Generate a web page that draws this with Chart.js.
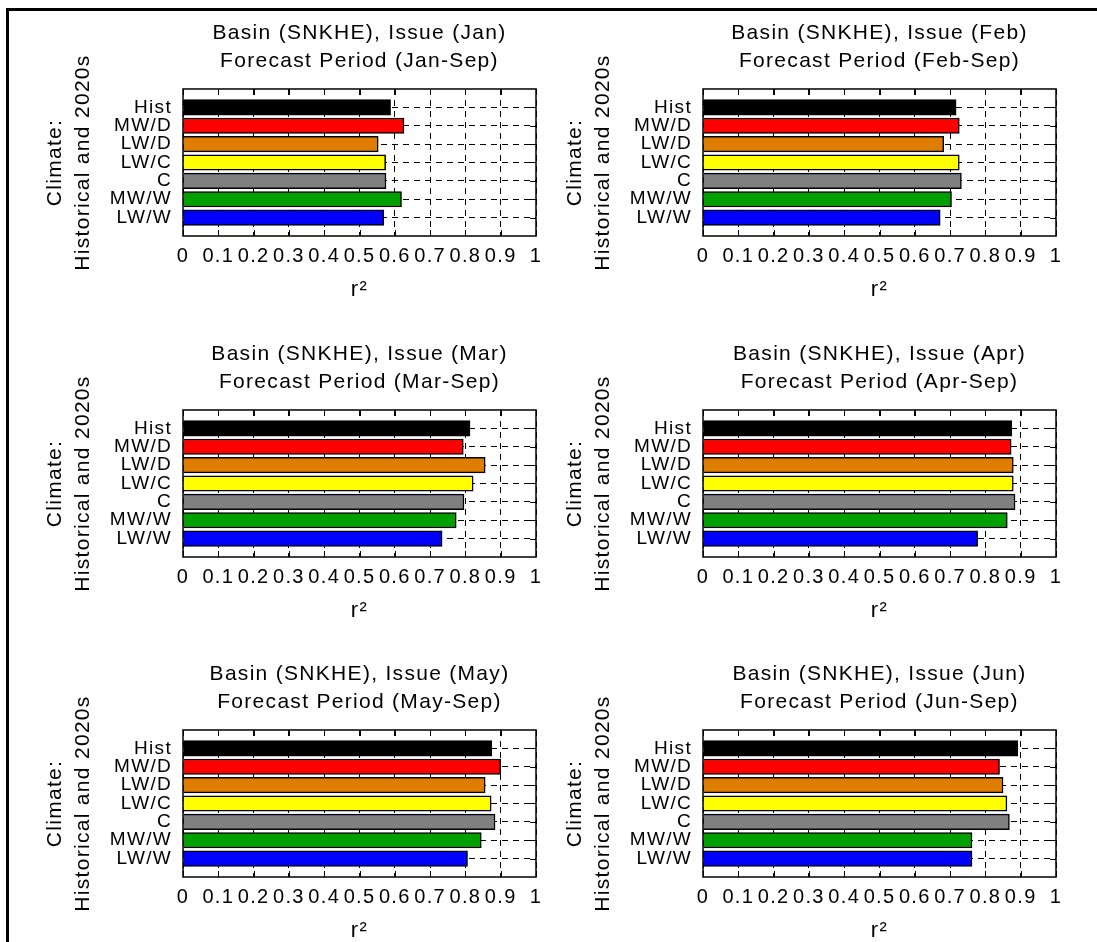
<!DOCTYPE html>
<html>
<head>
<meta charset="utf-8">
<script src="https://cdn.jsdelivr.net/npm/chart.js@4/dist/chart.umd.min.js"></script>
<style>
  html, body { margin: 0; padding: 0; background: #fff; overflow: hidden; width: 1097px; height: 942px; }
  #frame { position: absolute; left: 6px; top: 8px; width: 1200px; height: 1000px;
           border-left: 3px solid #000; border-top: 3px solid #000; }
  canvas { position: absolute; }
</style>
</head>
<body>
<div id="frame"></div>
<script>
// categories (top to bottom)
const categories = ["Hist", "MW/D", "LW/D", "LW/C", "C", "MW/W", "LW/W"];
const barColors = ["#000000", "#ff0000", "#de7d00", "#ffff00", "#808080", "#00a000", "#0000ff"];

// issue month and forecast period of each panel
const issueMonths = ["Jan", "Feb", "Mar", "Apr", "May", "Jun"];

// r^2 values per panel, same order as categories
const r2Jan = [0.588, 0.626, 0.553, 0.574, 0.575, 0.619, 0.569];
const r2Feb = [0.717, 0.726, 0.682, 0.726, 0.732, 0.704, 0.672];
const r2Mar = [0.813, 0.794, 0.856, 0.822, 0.796, 0.774, 0.734];
const r2Apr = [0.875, 0.873, 0.879, 0.879, 0.884, 0.862, 0.778];
const r2May = [0.875, 0.900, 0.856, 0.873, 0.884, 0.845, 0.806];
const r2Jun = [0.892, 0.840, 0.850, 0.861, 0.868, 0.762, 0.762];
const panelValues = [r2Jan, r2Feb, r2Mar, r2Apr, r2May, r2Jun];

// x axis ticks
const xMin = 0, xMax = 1, xStep = 0.1;

Chart.defaults.font.family = "'Liberation Sans', Arial, sans-serif";
Chart.defaults.color = "#000";

// plot area placement (px)
const plotLefts = [183, 703];
const plotTops = [89, 410, 730];
const plotW = 353, plotH = 147;
const sideW = 150, topH = 89, bottomH = 70;

// box around the axes + inward tick marks, like the original
const boxPlugin = {
    id: "boxPlugin",
    beforeDraw(chart) {
        chart.ctx.letterSpacing = "1.3px";
    },
    afterDraw(chart) {
        const { ctx, chartArea: a, scales } = chart;
        ctx.save();
        ctx.strokeStyle = "#000";
        ctx.lineWidth = 1;
        ctx.beginPath();
        scales.x.ticks.forEach(t => {
            const px = Math.round(scales.x.getPixelForValue(t.value)) + 0.5;
            ctx.moveTo(px, a.top); ctx.lineTo(px, a.top + 6);
            ctx.moveTo(px, a.bottom); ctx.lineTo(px, a.bottom - 6);
        });
        scales.y.ticks.forEach(t => {
            const py = Math.round(scales.y.getPixelForValue(t.value)) + 0.5;
            ctx.moveTo(a.right, py); ctx.lineTo(a.right - 6, py);
        });
        ctx.stroke();
        ctx.lineWidth = 1.5;
        ctx.strokeRect(a.left, a.top, a.right - a.left, a.bottom - a.top);
        ctx.restore();
    }
};

function makePanel(idx) {
    const col = idx % 2, row = Math.floor(idx / 2);
    const canvas = document.createElement("canvas");
    const w = sideW + plotW + sideW, h = topH + plotH + bottomH;
    canvas.width = w;
    canvas.height = h;
    canvas.style.width = w + "px";
    canvas.style.height = h + "px";
    canvas.style.left = (plotLefts[col] - sideW) + "px";
    canvas.style.top = (plotTops[row] - topH) + "px";
    document.body.appendChild(canvas);

    const month = issueMonths[idx];
    const values = panelValues[idx];

    return new Chart(canvas, {
        type: "bar",
        data: {
            datasets: [{
                data: values.map((v, i) => ({ x: v, y: i + 1 })),
                backgroundColor: barColors,
                borderColor: "#000",
                borderWidth: 1.5,
                barThickness: 15.5
            }]
        },
        options: {
            indexAxis: "y",
            responsive: false,
            animation: false,
            devicePixelRatio: 1,
            layout: { padding: 0 },
            plugins: {
                legend: { display: false },
                tooltip: { enabled: false },
                title: {
                    display: true,
                    text: ["Basin (SNKHE), Issue (" + month + ")", "Forecast Period (" + month + "-Sep)"],
                    color: "#000",
                    font: { size: 21, weight: "normal", lineHeight: 1.333 },
                    padding: { top: 19, bottom: 14 }
                }
            },
            scales: {
                x: {
                    type: "linear",
                    min: xMin,
                    max: xMax,
                    afterFit: (s) => { s.height = bottomH; },
                    ticks: {
                        stepSize: xStep,
                        padding: 8,
                        maxRotation: 0,
                        autoSkip: false,
                        font: { size: 20, lineHeight: 1.2 },
                        callback: (v) => String(+v.toFixed(1))
                    },
                    grid: { color: "#000", lineWidth: 1, drawTicks: false },
                    border: { display: false, dash: [6, 5] },
                    title: {
                        display: true,
                        text: "r²",
                        font: { size: 22, lineHeight: 1.3 },
                        padding: { top: 0, bottom: 2 }
                    }
                },
                y: {
                    type: "linear",
                    min: 0,
                    max: categories.length + 1,
                    reverse: true,
                    offset: false,
                    afterFit: (s) => { s.width = sideW; },
                    afterBuildTicks: (s) => { s.ticks = categories.map((c, i) => ({ value: i + 1 })); },
                    ticks: {
                        padding: 11,
                        autoSkip: false,
                        font: { size: 19 },
                        callback: (v) => categories[v - 1] || ""
                    },
                    grid: { color: "#000", lineWidth: 1, drawTicks: false, offset: false },
                    border: { display: false, dash: [6, 5] },
                    title: {
                        display: true,
                        text: ["Climate:", "Historical and 2020s"],
                        font: { size: 21, lineHeight: 1.3 },
                        padding: { top: 9, bottom: 0 }
                    }
                },
                // empty right axis, only keeps the title centred over the plot
                yPad: {
                    type: "linear",
                    position: "right",
                    min: 0,
                    max: 1,
                    afterFit: (s) => { s.width = sideW; },
                    ticks: { display: false },
                    grid: { display: false, drawTicks: false },
                    border: { display: false }
                }
            }
        },
        plugins: [boxPlugin]
    });
}

for (let i = 0; i < panelValues.length; i++) {
    makePanel(i);
}
</script>
</body>
</html>
